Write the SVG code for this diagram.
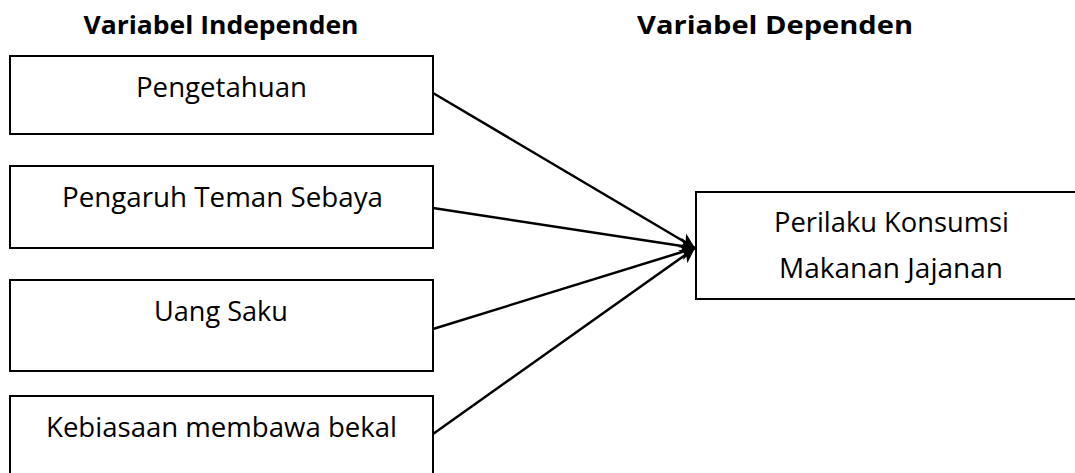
<svg xmlns="http://www.w3.org/2000/svg" width="1075" height="473" viewBox="0 0 1075 473">
<style>
.box{fill:#fff;stroke:#000;stroke-width:2}
.t{font-family:"Open Sans","Liberation Sans",sans-serif;font-size:27px;fill:#000;text-anchor:middle}
.h{font-family:"Open Sans","Liberation Sans",sans-serif;font-size:25px;font-weight:bold;fill:#000;text-anchor:middle}
.c{stroke:#000;stroke-width:2.5;fill:none;marker-end:url(#ah)}
</style>
<defs>
<marker id="ah" markerUnits="userSpaceOnUse" markerWidth="18" markerHeight="24" refX="15" refY="12" orient="auto">
<path d="M0,4 L15,12 L0,20 L4,12 Z" fill="#000"/>
</marker>
</defs>
<rect width="1075" height="473" fill="#fff"/>
<text class="h" x="221" y="34" textLength="275" lengthAdjust="spacingAndGlyphs">Variabel Independen</text>
<text class="h" x="775" y="34" textLength="276" lengthAdjust="spacingAndGlyphs">Variabel Dependen</text>
<g id="n1"><rect class="box" x="10" y="56" width="423" height="78"/><text class="t" x="221.5" y="97" textLength="171" lengthAdjust="spacingAndGlyphs">Pengetahuan</text></g>
<g id="n2"><rect class="box" x="10" y="166" width="423" height="82"/><text class="t" x="222.5" y="207" textLength="321" lengthAdjust="spacingAndGlyphs">Pengaruh Teman Sebaya</text></g>
<g id="n3"><rect class="box" x="10" y="280" width="423" height="91"/><text class="t" x="221" y="321" textLength="134" lengthAdjust="spacingAndGlyphs">Uang Saku</text></g>
<g id="n4"><rect class="box" x="10" y="396" width="423" height="90"/><text class="t" x="221.5" y="437" textLength="351" lengthAdjust="spacingAndGlyphs">Kebiasaan membawa bekal</text></g>
<g id="n5"><rect class="box" x="696" y="192" width="400" height="107"/><text class="t" x="891.5" y="232" textLength="235" lengthAdjust="spacingAndGlyphs">Perilaku Konsumsi</text><text class="t" x="891" y="278" textLength="224" lengthAdjust="spacingAndGlyphs">Makanan Jajanan</text></g>
<g id="connectors">
<line class="c" x1="433" y1="93" x2="695" y2="248"/>
<line class="c" x1="433" y1="208" x2="695" y2="248"/>
<line class="c" x1="433" y1="329" x2="695" y2="248"/>
<line class="c" x1="433" y1="434" x2="695" y2="248"/>
</g>
</svg>
